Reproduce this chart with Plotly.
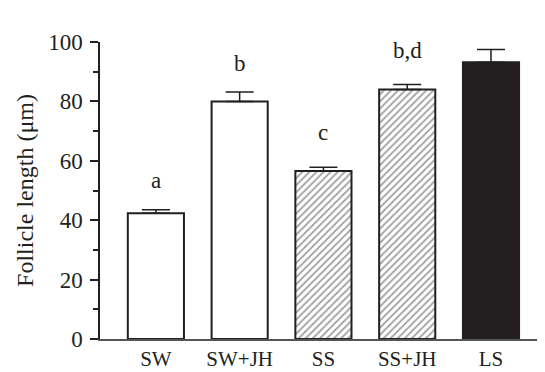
import plotly.graph_objects as go

categories = ["SW", "SW+JH", "SS", "SS+JH", "LS"]
means = [42.3, 80.0, 56.6, 84.0, 93.2]
errors = [1.2, 3.2, 1.2, 1.7, 4.3]
letters = ["a", "b", "c", "b,d", "d"]
letter_y = [53.5, 92.6, 69.4, 97.3, 105.4]

fills = ["white", "white", "white", "white", "#231f20"]
patterns = ["", "", "/", "/", ""]

ink = "#231f20"
font = "Liberation Serif, Times New Roman, serif"

fig = go.Figure()
fig.add_trace(go.Bar(
    x=list(range(len(categories))),
    y=means,
    width=0.67,
    marker=dict(
        color=fills,
        line=dict(color=ink, width=2),
        pattern=dict(shape=patterns, fgcolor=ink, bgcolor="white", size=5, solidity=0.35),
    ),
    error_y=dict(type="data", array=errors, arrayminus=[0] * len(errors), symmetric=False,
                 color=ink, thickness=1.5, width=14),
    cliponaxis=False,
    showlegend=False,
))

for i, (t, yy) in enumerate(zip(letters, letter_y)):
    fig.add_annotation(x=i, y=yy, text=t, showarrow=False, xref="x", yref="y",
                       font=dict(family=font, size=23, color=ink))

fig.update_layout(
    width=545, height=372,
    margin=dict(l=92, r=13, t=34, b=41),
    paper_bgcolor="white", plot_bgcolor="white",
    font=dict(family=font, size=23, color=ink),
    xaxis=dict(
        range=[-0.667, 4.585], automargin=False,
        tickmode="array", tickvals=list(range(len(categories))), ticktext=categories,
        showline=True, linecolor="#555", linewidth=1.5,
        ticks="", showgrid=False, zeroline=False,
        tickfont=dict(family=font, size=21, color=ink),
    ),
    yaxis=dict(
        range=[0, 100], dtick=20, automargin=False,
        showline=True, linecolor=ink, linewidth=1.5,
        ticks="outside", ticklen=8, tickwidth=1.5, tickcolor=ink,
        minor=dict(dtick=10, ticks="outside", ticklen=5, tickwidth=1.5, tickcolor=ink),
        showgrid=False, zeroline=False, ticklabelstandoff=3,
        tickfont=dict(family=font, size=23, color=ink),
        title=dict(text="Follicle length (μm)", font=dict(family=font, size=24, color=ink), standoff=8),
    ),
)

fig.write_html("out.html")
